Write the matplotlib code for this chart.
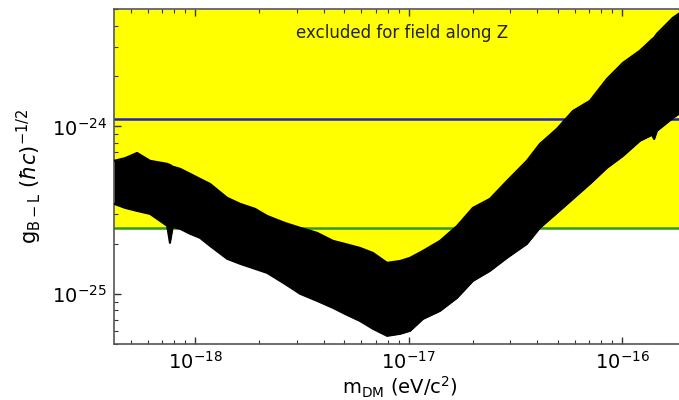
import matplotlib
matplotlib.use("Agg")
import matplotlib.pyplot as plt
from matplotlib.ticker import NullFormatter
import numpy as np

log_mass = [-18.379, -18.328, -18.272, -18.211, -18.131, -18.118, -18.105, -18.070,
            -18.023, -17.977, -17.930, -17.850, -17.789, -17.719, -17.663, -17.579,
            -17.508, -17.429, -17.354, -17.298, -17.228, -17.167, -17.101, -17.040,
            -16.993, -16.933, -16.853, -16.773, -16.699, -16.619, -16.539, -16.446,
            -16.385, -16.305, -16.230, -16.151, -16.071, -15.996, -15.917, -15.860,
            -15.850, -15.837, -15.762, -15.701]
log_g_upper = [-24.205, -24.189, -24.158, -24.205, -24.223, -24.230, -24.240, -24.253,
               -24.283, -24.313, -24.343, -24.426, -24.462, -24.492, -24.534, -24.576,
               -24.605, -24.635, -24.683, -24.701, -24.725, -24.755, -24.814, -24.803,
               -24.784, -24.743, -24.683, -24.594, -24.486, -24.432, -24.325, -24.205,
               -24.104, -24.014, -23.907, -23.847, -23.716, -23.620, -23.548, -23.480,
               -23.470, -23.447, -23.351, -23.298]
log_g_lower = [-24.462, -24.486, -24.504, -24.522, -24.593, -24.695, -24.600, -24.611,
               -24.641, -24.665, -24.713, -24.790, -24.820, -24.850, -24.874, -24.940,
               -24.999, -25.041, -25.083, -25.119, -25.161, -25.208, -25.250, -25.238,
               -25.220, -25.149, -25.101, -25.023, -24.922, -24.862, -24.784, -24.701,
               -24.605, -24.516, -24.432, -24.343, -24.247, -24.176, -24.086, -24.050,
               -24.075, -24.026, -23.949, -23.895]

g_blue = 1.105e-24
g_green = 2.49e-25

xlim = (10**-18.38, 2e-16)
ylim = (5e-26, 5e-24)

mass = 10**np.array(log_mass)
upper = 10**np.array(log_g_upper)
lower = 10**np.array(log_g_lower)

fig = plt.figure(figsize=(6.79, 4.0), dpi=100)
ax = fig.add_axes([0.1679, 0.139, 0.843, 0.8375])

# excluded region: above the curve and above the green line
ax.fill_between(mass, np.minimum(lower, g_green), ylim[1], color='#ffff00', lw=0, zorder=1)
ax.axhline(g_blue, color='#2020c8', lw=1.8, zorder=2)
ax.axhline(g_green, color='#2e9a1e', lw=1.8, zorder=2)

ax.fill_between(mass, lower, upper, color='k', lw=0, zorder=3)
ax.plot(mass, upper, color='k', lw=1.5, zorder=3)
ax.plot(mass, lower, color='k', lw=1.5, zorder=3)

ax.text(0.503, 0.929, 'excluded for field along Z', transform=ax.transAxes,
        ha='center', va='center', fontsize=12, color='#222222')

ax.set_xscale('log')
ax.set_yscale('log')
ax.set_xlim(*xlim)
ax.set_ylim(*ylim)
ax.set_xticks([1e-18, 1e-17, 1e-16])
ax.set_yticks([1e-25, 1e-24])
ax.xaxis.set_minor_formatter(NullFormatter())
ax.yaxis.set_minor_formatter(NullFormatter())

ax.set_xlabel(r'm$_{\rm DM}$ (eV/c$^2$)', fontsize=14, labelpad=1)
ax.set_ylabel(r'g$_{\rm B-L}$ $(\hbar c)^{-1/2}$', fontsize=15, labelpad=6)

ax.tick_params(which='both', direction='in', top=True, right=True,
               labelsize=14, color='#333333')
ax.tick_params(which='major', length=5, width=1, pad=5)
ax.tick_params(which='minor', length=3, width=0.8)
for s in ax.spines.values():
    s.set_color('#555555')
    s.set_linewidth(1.2)

fig.savefig('out.png', dpi=100)
